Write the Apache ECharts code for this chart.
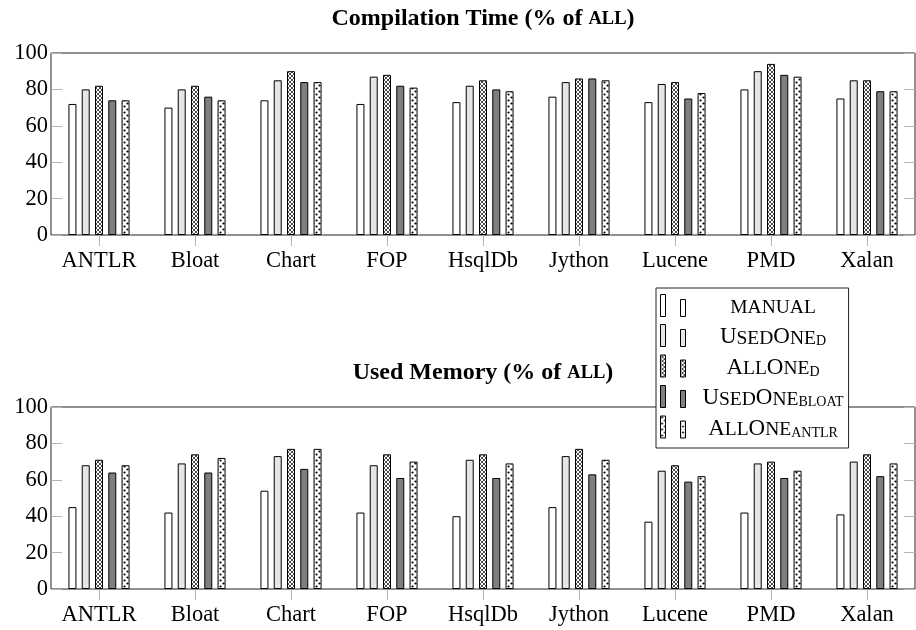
<!DOCTYPE html>
<html><head><meta charset="utf-8">
<script src="https://cdn.jsdelivr.net/npm/echarts@6/dist/echarts.min.js"></script>
<style>html,body{margin:0;padding:0;background:#fff}#c{width:916px;height:630px}</style>
</head><body><div id="c"></div>
<script>
// ---- data ----
const categories = ['ANTLR','Bloat','Chart','FOP','HsqlDb','Jython','Lucene','PMD','Xalan'];
const seriesNames = ['manual','UsedOneD','AllOneD','UsedOneBloat','AllOneAntlr'];
const yMin = 0, yMax = 100, yStep = 20;
// Compilation Time (% of ALL)
const timeManual       = [72,70,74,72,73,76,73,80,75];
const timeUsedOneD     = [80,80,85,87,82,84,83,90,85];
const timeAllOneD      = [82,82,90,88,85,86,84,94,85];
const timeUsedOneBloat = [74,76,84,82,80,86,75,88,79];
const timeAllOneAntlr  = [74,74,84,81,79,85,78,87,79];
// Used Memory (% of ALL)
const memManual       = [45,42,54,42,40,45,37,42,41];
const memUsedOneD     = [68,69,73,68,71,73,65,69,70];
const memAllOneD      = [71,74,77,74,74,77,68,70,74];
const memUsedOneBloat = [64,64,66,61,61,63,59,61,62];
const memAllOneAntlr  = [68,72,77,70,69,71,62,65,69];

const legendLabels = {
  manual: '{s|MANUAL}',
  UsedOneD: '{n|U}{s|SED}{n|O}{s|NE}{sub|D}',
  AllOneD: '{n|A}{s|LL}{n|O}{s|NE}{sub|D}',
  UsedOneBloat: '{n|U}{s|SED}{n|O}{s|NE}{sub|BLOAT}',
  AllOneAntlr: '{n|A}{s|LL}{n|O}{s|NE}{sub|ANTLR}'
};

// ---- patterns ----
function crossPattern(){
  const c = document.createElement('canvas'); c.width = 4; c.height = 4;
  const g = c.getContext('2d');
  g.fillStyle = '#fff'; g.fillRect(0,0,4,4);
  g.strokeStyle = '#000'; g.lineWidth = 0.7;
  g.beginPath(); g.moveTo(-1,-1); g.lineTo(5,5); g.moveTo(5,-1); g.lineTo(-1,5); g.stroke();
  return {image: c, repeat: 'repeat'};
}
function dotPattern(){
  const c = document.createElement('canvas'); c.width = 6; c.height = 6;
  const g = c.getContext('2d');
  g.fillStyle = '#fff'; g.fillRect(0,0,6,6);
  g.fillStyle = '#000';
  g.beginPath(); g.arc(1.5,1.5,1.1,0,Math.PI*2); g.fill();
  g.beginPath(); g.arc(4.5,4.5,1.1,0,Math.PI*2); g.fill();
  return {image: c, repeat: 'repeat'};
}
const fills = ['#ffffff', '#e6e6e6', crossPattern(), '#7f7f7f', dotPattern()];

const FONT = 'Liberation Serif';
const tickColor = '#b4b4b4';

function mkSeries(arrs, idx){
  return arrs.map((d,i)=>({
    type:'bar', name: seriesNames[i], xAxisIndex: idx*2, yAxisIndex: idx*2, data: d,
    barWidth: 8, barGap: '66%',
    itemStyle: {color: fills[i], borderColor: '#000', borderWidth: 1},
    emphasis: {disabled: true}, silent: true, animation: false
  }));
}
function xAxes(gi){
  return [
    {type:'category', gridIndex: gi, data: categories, position:'bottom',
     axisLine:{show:false}, axisTick:{show:true, interval:0, alignWithLabel:true, length:11, lineStyle:{color:tickColor, width:1}},
     axisLabel:{interval:0, hideOverlap:false, fontFamily:FONT, fontSize:22.5, color:'#000', margin:15}, splitLine:{show:false}},
    {type:'category', gridIndex: gi, data: categories, position:'top',
     axisLine:{show:false}, axisTick:{show:true, interval:0, alignWithLabel:true, length:10, lineStyle:{color:tickColor, width:1}},
     axisLabel:{show:false}, splitLine:{show:false}}
  ];
}
function yAxes(gi){
  return [
    {type:'value', gridIndex: gi, min:yMin, max:yMax, interval:yStep, position:'left',
     axisLine:{show:false}, axisTick:{show:true, inside:true, length:11, lineStyle:{color:tickColor, width:1}},
     axisLabel:{fontFamily:FONT, fontSize:22.5, color:'#000', margin:3}, splitLine:{show:false}},
    {type:'value', gridIndex: gi, min:yMin, max:yMax, interval:yStep, position:'right',
     axisLine:{show:false}, axisTick:{show:true, inside:true, length:11, lineStyle:{color:tickColor, width:1}},
     axisLabel:{show:false}, splitLine:{show:false}}
  ];
}
const titleRich = {
  b: {fontFamily:FONT, fontWeight:'bold', fontSize:24, lineHeight:28, verticalAlign:'bottom', color:'#000'},
  sc: {fontFamily:FONT, fontWeight:'bold', fontSize:18.5, lineHeight:27, verticalAlign:'bottom', padding:[0,0,2,0], color:'#000'}
};

const chart = echarts.init(document.getElementById('c'), null, {renderer:'canvas'});
chart.setOption({
  animation: false,
  backgroundColor: '#fff',
  title: [
    {text: '{b|Compilation Time (% of }{sc|ALL}{b|)}', left: 483, top: 3, textAlign: 'center', padding: 0,
     textStyle: {rich: titleRich}},
    {text: '{b|Used Memory (% of }{sc|ALL}{b|)}', left: 483, top: 357, textAlign: 'center', padding: 0,
     textStyle: {rich: titleRich}}
  ],
  grid: [
    {left: 51, top: 53, width: 864, height: 182, show: true, borderColor: '#222', borderWidth: 1, backgroundColor: 'transparent'},
    {left: 51, top: 407, width: 864, height: 182, show: true, borderColor: '#222', borderWidth: 1, backgroundColor: 'transparent'}
  ],
  xAxis: [...xAxes(0), ...xAxes(1)],
  yAxis: [...yAxes(0), ...yAxes(1)],
  legend: {
    data: seriesNames, orient: 'vertical', left: 656, top: 288,
    padding: [6,5,8,4], itemGap: 6, itemWidth: 25, itemHeight: 22,
    icon: 'path://M0,0h5v22h-5z M20,5h5v17h-5z',
    backgroundColor: '#fff', borderColor: '#222', borderWidth: 1, borderRadius: 0,
    selectedMode: false,
    formatter: n => legendLabels[n],
    itemStyle: {borderColor: '#000', borderWidth: 1},
    textStyle: {
      width: 165, color: '#000', fontFamily: FONT,
      rich: {
        n:   {fontFamily:FONT, fontSize:23, lineHeight:26, verticalAlign:'bottom', align:'center', color:'#000'},
        s:   {fontFamily:FONT, fontSize:19.5, lineHeight:25, verticalAlign:'bottom', align:'center', color:'#000'},
        sub: {fontFamily:FONT, fontSize:14, lineHeight:13, verticalAlign:'bottom', align:'center', color:'#000'}
      }
    }
  },
  series: [
    ...mkSeries([timeManual, timeUsedOneD, timeAllOneD, timeUsedOneBloat, timeAllOneAntlr], 0),
    ...mkSeries([memManual, memUsedOneD, memAllOneD, memUsedOneBloat, memAllOneAntlr], 1)
  ]
});
</script>
</body></html>
